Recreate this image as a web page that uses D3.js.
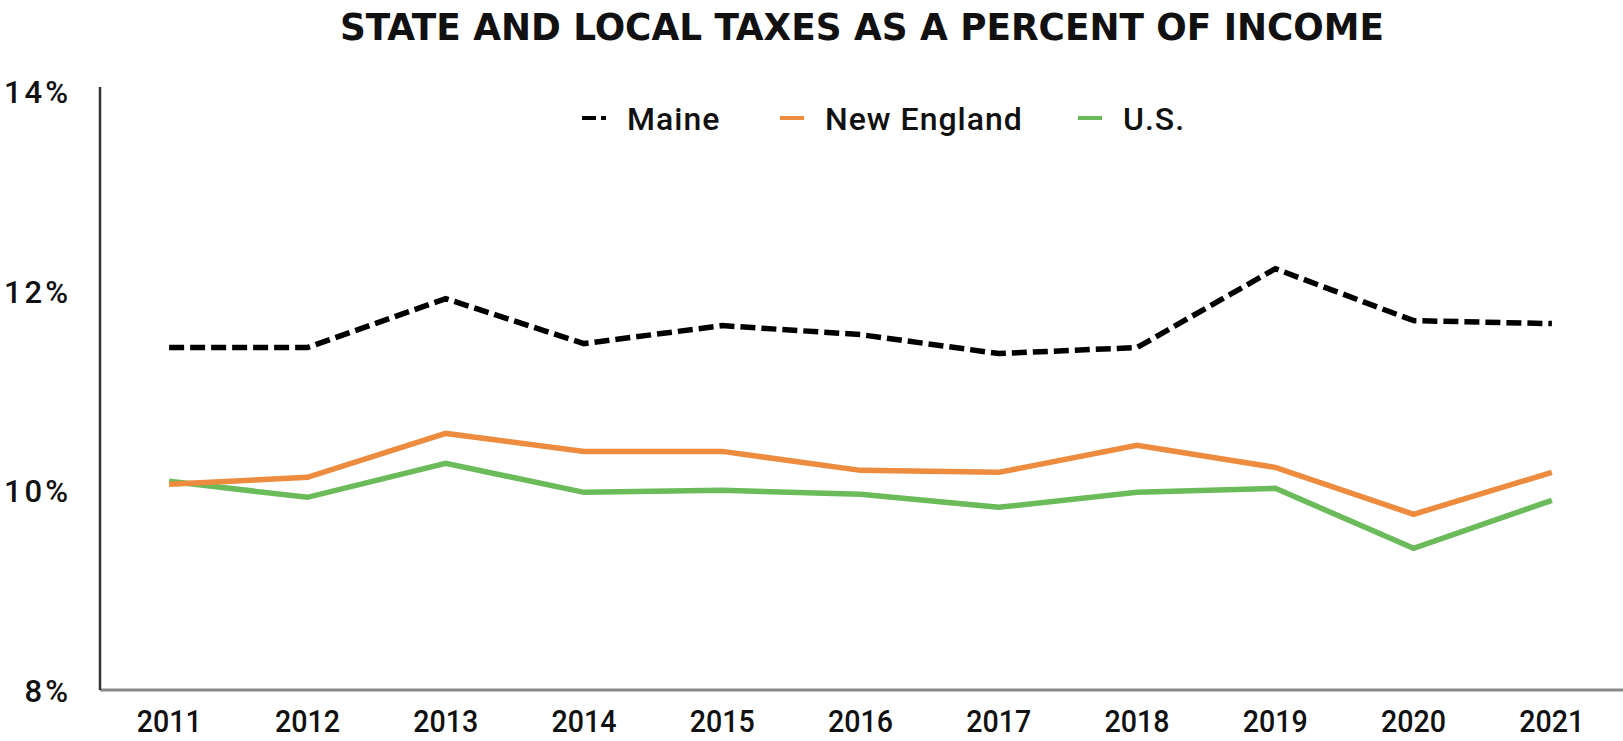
<!DOCTYPE html>
<html>
<head>
<meta charset="utf-8">
<script src="https://cdn.jsdelivr.net/npm/d3@7"></script>
<style>
  body { margin: 0; background: #fff; }
  svg text { fill: #111; }
</style>
</head>
<body>
<div id="root"></div>
<script>
const years = ['2011', '2012', '2013', '2014', '2015', '2016', '2017', '2018', '2019', '2020', '2021'];
const maine = [11.43, 11.43, 11.92, 11.47, 11.65, 11.56, 11.37, 11.43, 12.22, 11.70, 11.67];
const newEngland = [10.06, 10.13, 10.57, 10.39, 10.39, 10.20, 10.18, 10.45, 10.23, 9.76, 10.18];
const us = [10.09, 9.93, 10.27, 9.98, 10.00, 9.96, 9.83, 9.98, 10.02, 9.42, 9.90];
const yTicks = [8, 10, 12, 14];
const seriesNames = ['Maine', 'New England', 'U.S.'];

const width = 1623;
const height = 741;
const plotLeft = 100, plotRight = 1621, plotTop = 91, plotBottom = 690;

const series = [
  {name: seriesNames[0], values: maine, color: '#000000', dash: '15,6'},
  {name: seriesNames[1], values: newEngland, color: '#ED8B3E', dash: null},
  {name: seriesNames[2], values: us, color: '#6BBB5B', dash: null},
];

const svg = d3.select('#root')
  .append('svg')
  .attr('width', width)
  .attr('height', height);

const x = d3.scaleBand().domain(years).range([plotLeft, plotRight]);
const y = d3.scaleLinear().domain([8, 14]).range([plotBottom, plotTop]);

// title
svg.append('text')
  .attr('x', 862)
  .attr('y', 40)
  .attr('text-anchor', 'middle')
  .attr('font-family', '"DejaVu Sans Condensed", "DejaVu Sans", sans-serif')
  .attr('font-stretch', 'condensed')
  .attr('font-weight', 'bold')
  .attr('font-size', 37)
  .attr('textLength', 1044)
  .attr('lengthAdjust', 'spacingAndGlyphs')
  .text('STATE AND LOCAL TAXES AS A PERCENT OF INCOME');

// y labels
svg.append('g')
  .selectAll('text')
  .data(yTicks)
  .enter()
  .append('text')
  .attr('x', 71)
  .attr('y', d => y(d) + 12)
  .attr('text-anchor', 'end')
  .attr('font-family', 'Roboto, sans-serif')
  .attr('font-weight', 500)
  .attr('font-size', 31)
  .attr('letter-spacing', 3)
  .text(d => d + '%');

// x labels
svg.append('g')
  .selectAll('text')
  .data(years)
  .enter()
  .append('text')
  .attr('x', d => x(d) + x.bandwidth() / 2)
  .attr('y', 732)
  .attr('text-anchor', 'middle')
  .attr('font-family', 'Roboto, sans-serif')
  .attr('font-weight', 500)
  .attr('font-size', 32)
  .attr('textLength', 65)
  .attr('lengthAdjust', 'spacingAndGlyphs')
  .text(d => d);

// axes lines
svg.append('line')
  .attr('x1', plotLeft).attr('x2', width)
  .attr('y1', plotBottom).attr('y2', plotBottom)
  .attr('stroke', '#8a8a8a')
  .attr('stroke-width', 3);
svg.append('line')
  .attr('x1', plotLeft).attr('x2', plotLeft)
  .attr('y1', plotTop - 4).attr('y2', plotBottom)
  .attr('stroke', '#333')
  .attr('stroke-width', 2.5);

const line = d3.line()
  .x((d, i) => x(years[i]) + x.bandwidth() / 2)
  .y(d => y(d));

// draw US first so orange sits on top like the reference
series.slice().reverse().forEach(s => {
  svg.append('path')
    .datum(s.values)
    .attr('fill', 'none')
    .attr('stroke', s.color)
    .attr('stroke-width', 5.5)
    .attr('stroke-dasharray', s.dash)
    .attr('stroke-linejoin', 'miter')
    .attr('d', line);
});

// legend
const legendX = [582, 780, 1078];
const legend = svg.append('g')
  .selectAll('g')
  .data(series)
  .enter()
  .append('g')
  .attr('transform', (d, i) => 'translate(' + legendX[i] + ',118)');
legend.append('line')
  .attr('x1', 0).attr('x2', 24)
  .attr('stroke', d => d.color)
  .attr('stroke-width', 4)
  .attr('stroke-dasharray', d => d.dash ? '14,5' : null);
legend.append('text')
  .attr('x', 45)
  .attr('y', 12)
  .attr('font-family', 'Roboto, sans-serif')
  .attr('font-weight', 500)
  .attr('font-size', 32)
  .attr('letter-spacing', 1)
  .text(d => d.name);
</script>
</body>
</html>
